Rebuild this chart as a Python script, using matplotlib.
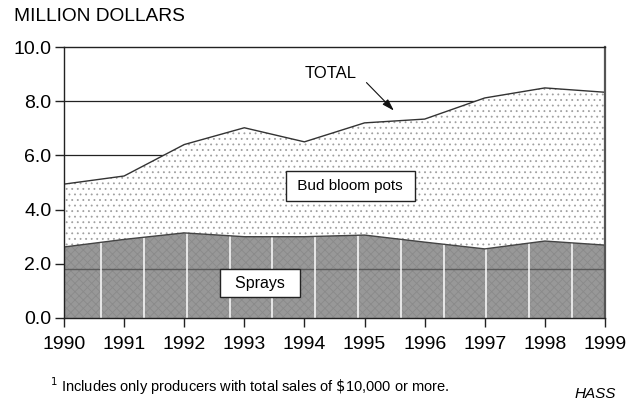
import numpy as np
import matplotlib
matplotlib.use('Agg')
import matplotlib.pyplot as plt

plt.rcParams['font.family'] = ['Liberation Sans', 'DejaVu Sans']
plt.rcParams['hatch.linewidth'] = 0.6

years = [1990, 1991, 1992, 1993, 1994, 1995, 1996, 1997, 1998, 1999]
total = [4.94, 5.24, 6.40, 7.02, 6.50, 7.20, 7.34, 8.12, 8.49, 8.33]
sprays = [2.62, 2.90, 3.14, 3.00, 3.00, 3.06, 2.80, 2.55, 2.84, 2.69]
y_ticks = [0.0, 2.0, 4.0, 6.0, 8.0, 10.0]

fig = plt.figure(figsize=(6.41, 4.0), dpi=100)
ax = fig.add_axes([0.0998, 0.205, 0.8440, 0.6775])

# gridlines behind the areas
for yv in [6.0, 8.0]:
    ax.axhline(yv, color='#222222', lw=0.9, zorder=1)

# bud bloom pots area (white with dots)
ax.fill_between(years, sprays, total, facecolor='white', edgecolor='#a0a0a0',
                hatch='...', linewidth=0, zorder=2)
ax.plot(years, total, color='#333333', lw=1.0, zorder=4)

# sprays area
ax.fill_between(years, 0, sprays, facecolor='#989898', edgecolor='#8a8a8a',
                hatch='xxxx', linewidth=0, zorder=3)
ax.plot(years, sprays, color='#444444', lw=1.0, zorder=4)
ax.axhline(1.82, color='#5a5a5a', lw=1.0, zorder=3.5)

# white vertical streaks in the sprays area
for xv in np.linspace(1990.62, 1998.45, 12):
    i = np.searchsorted(years, xv)
    x0, x1 = years[i - 1], years[i]
    top = sprays[i - 1] + (sprays[i] - sprays[i - 1]) * (xv - x0) / (x1 - x0)
    ax.plot([xv, xv], [0, top], color='white', lw=1.1, zorder=3.6)

ax.set_xlim(1990, 1999)
ax.set_ylim(0, 10)
ax.set_xticks(years)
ax.set_xticklabels([str(y) for y in years], fontsize=14)
ax.set_yticks(y_ticks)
ax.set_yticklabels(['%.1f' % v for v in y_ticks], fontsize=14)
ax.tick_params(axis='both', direction='out', length=6.5, width=1, color='#222222')
ax.tick_params(axis='x', pad=6.5)
ax.tick_params(axis='y', pad=2.5)
for s in ax.spines.values():
    s.set_color('#222222')
    s.set_linewidth(1.0)
    s.set_zorder(5)
ax.spines['right'].set_linewidth(1.6)
ax.spines['right'].set_color('#555555')

# labels
ax.text(1994.76, 4.87, ' Bud bloom pots ', fontsize=11, ha='center', va='center', zorder=6,
        bbox=dict(boxstyle='square,pad=0.5', facecolor='white', edgecolor='#222222', lw=1))
ax.text(1993.26, 1.29, '  Sprays  ', fontsize=11.5, ha='center', va='center', zorder=6,
        bbox=dict(boxstyle='square,pad=0.4', facecolor='white', edgecolor='#222222', lw=1))
ax.text(1994.44, 9.04, 'TOTAL', fontsize=12, ha='center', va='center', zorder=6)
ax.annotate('', xy=(1995.52, 7.58), xytext=(1995.0, 8.76), zorder=6,
            arrowprops=dict(arrowstyle='-|>,head_length=0.8,head_width=0.25',
                            color='#111111', lw=0.8, mutation_scale=9))

fig.text(0.022, 0.958, 'MILLION DOLLARS', fontsize=13.8, ha='left', va='center')
fig.text(0.078, 0.035, r'$^{1}$ Includes only producers with total sales of $\$$10,000 or more.',
         fontsize=10.5, ha='left', va='center')
fig.text(0.897, 0.015, 'HASS', fontsize=11, style='italic', ha='left', va='center')

fig.savefig('out.png', dpi=100)
